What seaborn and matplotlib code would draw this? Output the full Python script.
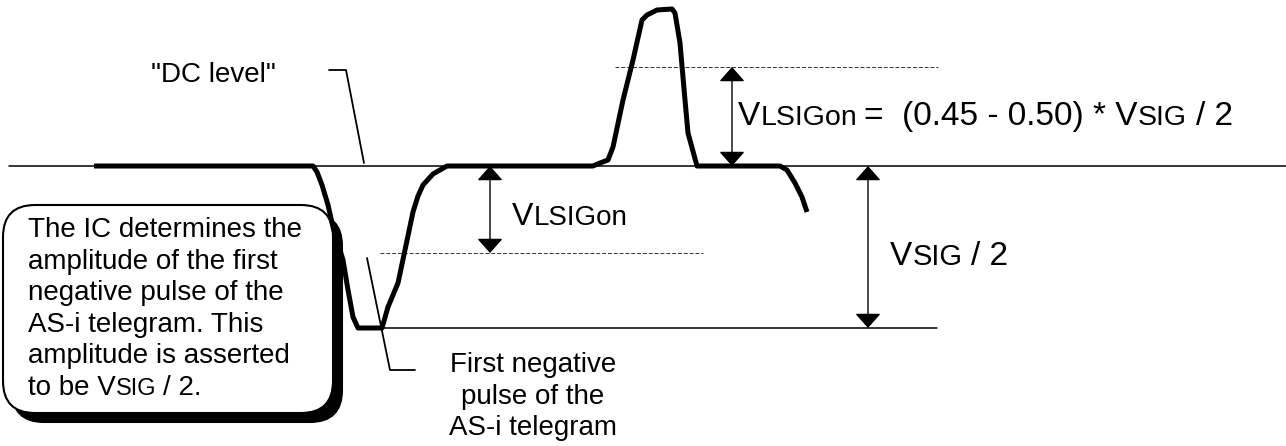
import matplotlib
matplotlib.use("Agg")
import matplotlib.pyplot as plt
from matplotlib.patches import FancyBboxPatch
import seaborn as sns

# Diagram units are the pixels of the 1286 x 446 picture, y grows downwards.
# Traced AS-i signal (first negative pulse, back to DC, one positive pulse, start of next fall)
WAVE_X = [94, 313, 317, 322, 328, 333, 343, 348, 353, 358, 382, 388, 398, 405, 413, 418, 423,
          433, 447, 593, 600, 608, 613, 623, 633, 642, 647, 657, 672, 675, 680, 685, 688, 697,
          780, 787, 795, 802, 807]
WAVE_Y = [166, 166, 172, 185, 205, 227, 260, 290, 317, 328, 328, 307, 283, 250, 212, 196, 185,
          174, 166, 166, 163, 160, 147, 100, 60, 20, 15, 10, 9, 13, 43, 100, 133, 166,
          166, 170, 183, 197, 212]

DC_LEVEL = 166
UPPER_THRESHOLD = 67
LOWER_THRESHOLD = 253
PULSE_BOTTOM = 328

BOX_LINES = ["The IC determines the", "amplitude of the first", "negative pulse of the",
             "AS-i telegram. This", "amplitude is asserted"]
PULSE_LINES = ["First negative", "pulse of the", "AS-i telegram"]

sns.set_style("white")
plt.rcParams['font.family'] = ['Liberation Sans', 'DejaVu Sans']
plt.rcParams['text.color'] = 'black'

fig = plt.figure(figsize=(12.86, 4.46), dpi=100)
ax = fig.add_axes([0, 0, 1, 1])
ax.set_xlim(0, 1286)
ax.set_ylim(446, 0)
ax.axis('off')
renderer = fig.canvas.get_renderer()


def rich_text(x, y, parts):
    # parts = (text, fontsize, gap before in px); keeps the "small caps" subscripts on one baseline
    for s, size, gap in parts:
        x += gap
        t = ax.text(x, y, s, fontsize=size, ha='left', va='baseline', color='black', zorder=6)
        bb = t.get_window_extent(renderer)
        x = ax.transData.inverted().transform((bb.x1, bb.y0))[0]


def double_arrow(x, y0, y1):
    ax.annotate('', xy=(x, y0), xytext=(x, y1),
                arrowprops=dict(arrowstyle='<|-|>,head_length=0.45,head_width=0.4',
                                mutation_scale=20, lw=1.0, color='black',
                                shrinkA=0, shrinkB=0), zorder=5)


# reference levels
ax.plot([9, 1286], [DC_LEVEL, DC_LEVEL], color='black', lw=1.1, zorder=2)
ax.plot([383, 937], [PULSE_BOTTOM, PULSE_BOTTOM], color='black', lw=1.1, zorder=2)
ax.plot([380, 703], [LOWER_THRESHOLD, LOWER_THRESHOLD], color='#333333', lw=0.7,
        ls=(0, (4, 2)), zorder=2)
ax.plot([615, 938], [UPPER_THRESHOLD, UPPER_THRESHOLD], color='#333333', lw=0.7,
        ls=(0, (4, 2)), zorder=2)

# callout box with shadow
shadow = FancyBboxPatch((12, 214), 330, 208, boxstyle='round,pad=0,rounding_size=32',
                        fc='black', ec='black', lw=1.5, zorder=1.5)
box = FancyBboxPatch((3, 205), 330, 208, boxstyle='round,pad=0,rounding_size=32',
                     fc='white', ec='black', lw=1.5, zorder=1.8)
ax.add_patch(shadow)
ax.add_patch(box)

# signal
sns.lineplot(x=WAVE_X, y=WAVE_Y, sort=False, estimator=None, ax=ax, color='black',
             lw=3.6, solid_joinstyle='round', solid_capstyle='butt', zorder=4)

# leader lines
ax.plot([329, 346, 364], [70, 70, 163], color='black', lw=1.3, zorder=3)
ax.plot([367, 390, 415], [258, 370, 370], color='black', lw=1.3, zorder=3)

# arrows
double_arrow(490, DC_LEVEL, LOWER_THRESHOLD)
double_arrow(732, UPPER_THRESHOLD, DC_LEVEL)
double_arrow(868, DC_LEVEL, PULSE_BOTTOM)

# labels
ax.text(213, 82, '"DC level"', fontsize=20, ha='center', va='baseline', color='black')
for i, line in enumerate(BOX_LINES):
    ax.text(28, 237 + i * 31.6, line, fontsize=20, ha='left', va='baseline', color='black',
            zorder=6)
rich_text(28, 237 + 5 * 31.6, [("to be V", 20, 0), ("SIG", 17, 0), ("/ 2.", 20, 7)])
for i, line in enumerate(PULSE_LINES):
    ax.text(533, 372 + i * 31.5, line, fontsize=20, ha='center', va='baseline', color='black')

rich_text(738, 125, [("V", 24, 0), ("LSIGon", 20.5, 0), ("=", 24, 6),
                     ("(0.45 - 0.50) * V", 24, 20), ("SIG", 20.5, 0), ("/ 2", 24, 9)])
rich_text(512, 225, [("V", 23, 0), ("LSIGon", 20, 0)])
rich_text(890, 265, [("V", 24, 0), ("SIG", 21, 0), ("/ 2", 24, 9)])

plt.savefig("out.png", dpi=100)
